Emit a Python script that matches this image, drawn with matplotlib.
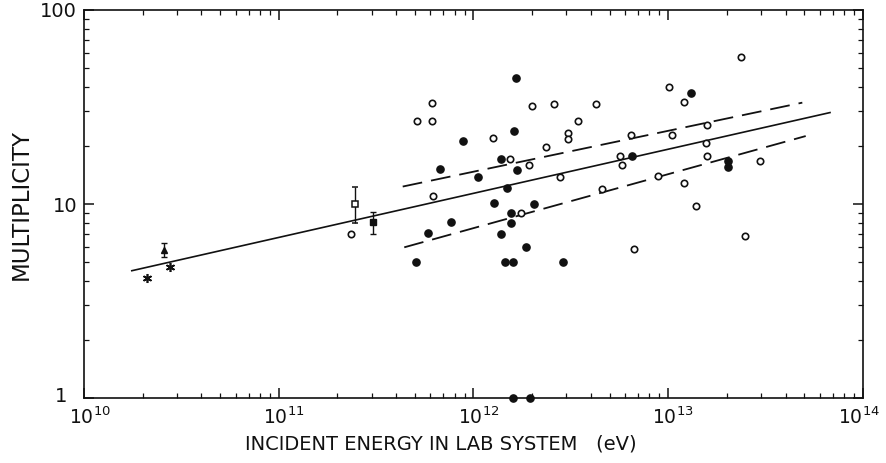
import matplotlib
matplotlib.use("Agg")
import matplotlib.pyplot as plt
from matplotlib.ticker import FixedLocator, FixedFormatter, NullFormatter, LogLocator
from matplotlib.transforms import ScaledTranslation

# ---- data ----
filled_E = [1.65e12, 1.62e12, 8.87e11, 1.38e12, 6.71e11, 1.67e12, 1.06e12, 1.49e12,
            1.27e12, 2.05e12, 1.56e12, 7.69e11, 1.55e12, 5.86e11, 1.38e12, 1.85e12,
            5.07e11, 1.45e12, 1.60e12, 2.88e12, 1.60e12, 1.95e12,
            1.31e13, 6.49e12, 2.02e13, 2.03e13]
filled_M = [44.5, 23.8, 21.1, 17.0, 15.1, 15.0, 13.8, 12.1,
            10.1, 9.96, 8.99, 8.11, 7.95, 7.06, 6.98, 6.03,
            5.0, 5.0, 5.0, 5.0, 1.0, 1.0,
            37.2, 17.6, 16.7, 15.6]

open_E = [6.10e11, 5.11e11, 6.14e11, 1.99e12, 2.58e12, 4.26e12, 3.43e12, 1.255e12,
          3.07e12, 3.07e12, 2.36e12, 1.54e12, 1.93e12, 2.78e12, 6.17e11, 1.75e12,
          4.57e12, 5.65e12, 5.77e12, 6.40e12, 2.36e13, 1.01e13, 1.20e13, 1.04e13,
          1.59e13, 1.56e13, 1.59e13, 2.95e13, 8.83e12, 1.20e13, 1.39e13, 2.47e13,
          6.67e12, 2.34e11]
open_M = [33.0, 26.9, 26.9, 31.9, 32.9, 32.6, 26.7, 21.9,
          23.1, 21.6, 19.7, 17.0, 15.8, 13.8, 11.0, 8.96,
          11.9, 17.7, 15.8, 22.7, 57.2, 40.2, 33.6, 22.6,
          25.5, 20.6, 17.7, 16.6, 13.9, 12.8, 9.77, 6.84,
          5.88, 7.0]

aster_E = [2.10e10, 2.76e10]
aster_M = [4.14, 4.75]

tri_E = [2.58e10]
tri_M = [5.79]
tri_err = [[0.46], [0.51]]

osq_E = [2.47e11]
osq_M = [10.0]
osq_err = [[2.0], [2.2]]

fsq_E = [3.03e11]
fsq_M = [8.05]
fsq_err = [[1.05], [1.05]]

fit_E = [1.76e10, 6.77e13]
fit_M = [4.53, 29.6]
upper_E = [4.33e11, 4.88e13]
upper_M = [12.3, 33.3]
lower_E = [4.41e11, 5.08e13]
lower_M = [5.98, 22.4]

x_ticks = [1e10, 1e11, 1e12, 1e13, 1e14]
x_ticklabels = [r'$10^{10}$', r'$10^{11}$', r'$10^{12}$', r'$10^{13}$', r'$10^{14}$']
y_ticks = [1, 10, 100]
y_ticklabels = ['1', '10', '100']

# ---- figure ----
W, H = 887, 463
fig = plt.figure(figsize=(W / 100, H / 100), dpi=100)
ax = fig.add_axes([84 / W, (H - 398) / H, (863 - 84) / W, (398 - 10) / H])
ax.set_xscale('log')
ax.set_yscale('log')
ax.set_xlim(1e10, 1e14)
ax.set_ylim(1, 100)

ink = '#111111'

ax.plot(fit_E, fit_M, color=ink, lw=1.2)
ax.plot(upper_E, upper_M, color=ink, lw=1.3, dashes=(11, 5))
ax.plot(lower_E, lower_M, color=ink, lw=1.3, dashes=(11, 5))

ax.plot(open_E, open_M, 'o', ls='none', ms=4.6, mfc='white', mec=ink, mew=1.2, clip_on=False)
ax.plot(filled_E, filled_M, 'o', ls='none', ms=5.2, mfc=ink, mec=ink, clip_on=False)

ax.plot(aster_E, aster_M, marker=(6, 2, 0), ls='none', ms=6.5, mec=ink, mew=1.2)
ax.errorbar(tri_E, tri_M, yerr=tri_err, fmt='^', ms=5, color=ink, mfc=ink,
            ecolor=ink, elinewidth=1.0, capsize=2, capthick=1.0)
ax.errorbar(osq_E, osq_M, yerr=osq_err, fmt='s', ms=4.5, color=ink, mfc='white',
            mec=ink, mew=1.1, ecolor=ink, elinewidth=1.0, capsize=2, capthick=1.0)
ax.errorbar(fsq_E, fsq_M, yerr=fsq_err, fmt='s', ms=4.5, color=ink, mfc=ink,
            ecolor=ink, elinewidth=1.0, capsize=2, capthick=1.0)

# ticks
ax.xaxis.set_major_locator(FixedLocator(x_ticks))
ax.xaxis.set_major_formatter(FixedFormatter(x_ticklabels))
ax.yaxis.set_major_locator(FixedLocator(y_ticks))
ax.yaxis.set_major_formatter(FixedFormatter(y_ticklabels))
ax.xaxis.set_minor_locator(LogLocator(base=10, subs=range(2, 10), numticks=50))
ax.yaxis.set_minor_locator(LogLocator(base=10, subs=range(2, 10), numticks=50))
ax.xaxis.set_minor_formatter(NullFormatter())
ax.yaxis.set_minor_formatter(NullFormatter())

ax.tick_params(which='both', direction='in', top=True, right=True, color=ink)
ax.tick_params(which='major', length=7, width=1.1)
ax.tick_params(which='minor', length=3.5, width=0.9)
ax.tick_params(axis='x', which='major', labelsize=13.5, pad=6, labelcolor=ink)
ax.tick_params(axis='y', which='major', labelsize=14, pad=5, labelcolor=ink)

# per-label pixel offsets, mimicking the hand-lettered placement
x_shift_px = [6, 5, 5, 5, -4]
for t, dx in zip(ax.xaxis.get_major_ticks(), x_shift_px):
    t.label1.set_transform(t.label1.get_transform() +
                           ScaledTranslation(dx / 100, 0, fig.dpi_scale_trans))
y_shift_px = [(-10, 3), (0, 0), (0, 0)]
for t, (dx, dy) in zip(ax.yaxis.get_major_ticks(), y_shift_px):
    t.label1.set_transform(t.label1.get_transform() +
                           ScaledTranslation(dx / 100, dy / 100, fig.dpi_scale_trans))

for s in ax.spines.values():
    s.set_linewidth(1.2)
    s.set_color(ink)

ax.set_ylabel('MULTIPLICITY', fontsize=16.5, color=ink)
ax.yaxis.set_label_coords((33 - 84) / (863 - 84), 0.5)
ax.set_xlabel('INCIDENT ENERGY IN LAB SYSTEM   (eV)', fontsize=14, color=ink)
ax.xaxis.set_label_coords((441 - 84) / (863 - 84), (398 - 434) / (398 - 10))

fig.savefig('out.png', dpi=100, facecolor='white')
